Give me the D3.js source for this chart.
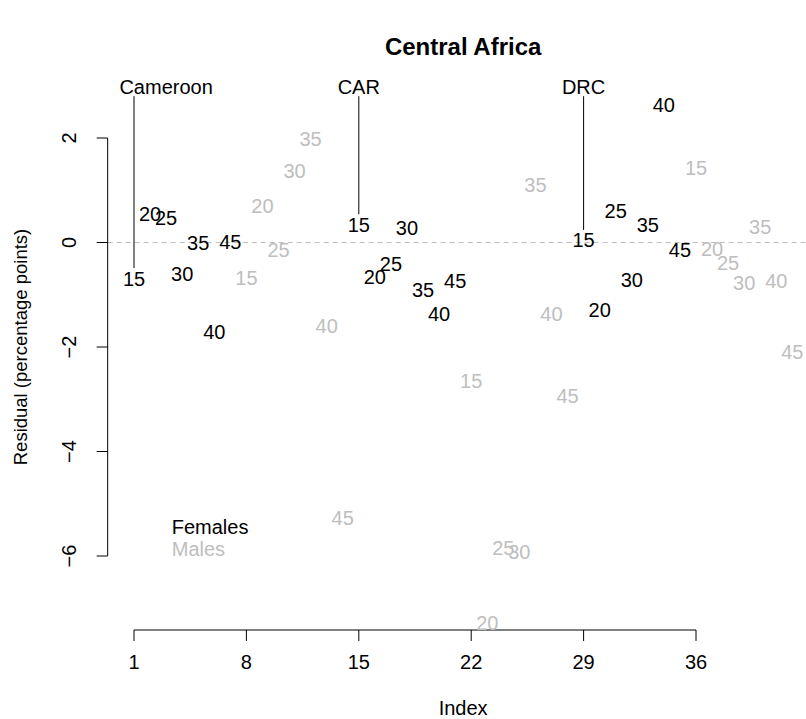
<!DOCTYPE html>
<html>
<head>
<meta charset="utf-8">
<script src="https://cdn.jsdelivr.net/npm/d3@7"></script>
<style>
  body { margin: 0; background: #fff; }
  text { font-family: "Liberation Sans", Arial, sans-serif; }
</style>
</head>
<body>
<div id="chart"></div>
<script>
// Residuals by country, sex and age group
const countries = ["Cameroon", "CAR", "DRC"];
const countryLabelIdx = [3, 15, 29];
const ages = [15, 20, 25, 30, 35, 40, 45];

const cameroonFemales = [-0.69, 0.55, 0.47, -0.61, -0.01, -1.72, 0.01];
const cameroonMales = [-0.68, 0.69, -0.14, 1.36, 1.98, -1.59, -5.28];
const carFemales = [0.34, -0.66, -0.41, 0.28, -0.91, -1.37, -0.73];
const carMales = [-2.65, -7.28, -5.85, -5.93, 1.11, -1.37, -2.94];
const drcFemales = [0.04, -1.30, 0.61, -0.71, 0.33, 2.64, -0.15];
const drcMales = [1.42, -0.13, -0.40, -0.78, 0.29, -0.74, -2.10];

const xTicks = [1, 8, 15, 22, 29, 36];
const yTicks = [2, 0, -2, -4, -6];

const femaleCol = "#000000", maleCol = "#bebebe";

// flat list of points: index runs country by country, females then males
const series = [
    { values: cameroonFemales, sex: "F" }, { values: cameroonMales, sex: "M" },
    { values: carFemales, sex: "F" }, { values: carMales, sex: "M" },
    { values: drcFemales, sex: "F" }, { values: drcMales, sex: "M" }
];
const points = [];
series.forEach((s, si) => {
    s.values.forEach((v, ai) => {
        points.push({ index: si * 7 + ai + 1, value: v, age: ages[ai], sex: s.sex });
    });
});

const width = 806, height = 719;
const svg = d3.select("#chart").append("svg")
    .attr("width", width)
    .attr("height", height);

const x = d3.scaleLinear().domain([1, 36]).range([134, 696]);
const y = d3.scaleLinear().domain([-6, 2]).range([556, 138]);

const plotLeft = x(-0.64), plotRight = x(43.64);
const fs = 20;

// title
svg.append("text")
    .attr("x", (plotLeft + plotRight) / 2)
    .attr("y", 47)
    .attr("dy", "0.35em")
    .attr("text-anchor", "middle")
    .style("font-weight", "bold")
    .style("font-size", "24px")
    .text("Central Africa");

// zero reference line
svg.append("line")
    .attr("x1", plotLeft).attr("x2", plotRight)
    .attr("y1", y(0)).attr("y2", y(0))
    .attr("stroke", maleCol)
    .attr("stroke-dasharray", "5,4");

// x axis
const xAxis = svg.append("g").attr("transform", "translate(0,630)");
xAxis.append("line")
    .attr("x1", x(xTicks[0])).attr("x2", x(xTicks[xTicks.length - 1]))
    .attr("stroke", "#000");
xAxis.selectAll(".xt").data(xTicks).enter().append("line")
    .attr("x1", d => x(d)).attr("x2", d => x(d))
    .attr("y1", 0).attr("y2", 11)
    .attr("stroke", "#000");
xAxis.selectAll(".xl").data(xTicks).enter().append("text")
    .attr("x", d => x(d)).attr("y", 32)
    .attr("dy", "0.35em")
    .attr("text-anchor", "middle")
    .style("font-size", fs + "px")
    .text(d => d);

// y axis
const yAxis = svg.append("g").attr("transform", "translate(" + plotLeft + ",0)");
yAxis.append("line")
    .attr("y1", y(yTicks[0])).attr("y2", y(yTicks[yTicks.length - 1]))
    .attr("stroke", "#000");
yAxis.selectAll(".yt").data(yTicks).enter().append("line")
    .attr("y1", d => y(d)).attr("y2", d => y(d))
    .attr("x1", 0).attr("x2", -11)
    .attr("stroke", "#000");
yAxis.selectAll(".yl").data(yTicks).enter().append("text")
    .attr("transform", d => "translate(-39," + y(d) + ") rotate(-90)")
    .attr("dy", "0.35em")
    .attr("text-anchor", "middle")
    .style("font-size", fs + "px")
    .text(d => d < 0 ? "\u2212" + Math.abs(d) : d);

// axis titles
svg.append("text")
    .attr("x", (plotLeft + plotRight) / 2)
    .attr("y", 708)
    .attr("dy", "0.35em")
    .attr("text-anchor", "middle")
    .style("font-size", fs + "px")
    .text("Index");
svg.append("text")
    .attr("transform", "translate(21," + y(-2) + ") rotate(-90)")
    .attr("dy", "0.35em")
    .attr("text-anchor", "middle")
    .style("font-size", "18.5px")
    .text("Residual (percentage points)");

// country markers: label above, line down to the first age group
const firstIdx = countries.map((c, i) => i * 14 + 1);
svg.selectAll(".cline").data(countries).enter().append("line")
    .attr("x1", (d, i) => x(firstIdx[i])).attr("x2", (d, i) => x(firstIdx[i]))
    .attr("y1", y(2.8))
    .attr("y2", (d, i) => y(points[firstIdx[i] - 1].value + 0.2))
    .attr("stroke", "#000");
svg.selectAll(".clab").data(countries).enter().append("text")
    .attr("x", (d, i) => x(countryLabelIdx[i]))
    .attr("y", y(2.97))
    .attr("dy", "0.35em")
    .attr("text-anchor", "middle")
    .style("font-size", fs + "px")
    .text(d => d);

// residuals drawn as age labels
svg.selectAll(".pt").data(points).enter().append("text")
    .attr("x", d => x(d.index))
    .attr("y", d => y(d.value))
    .attr("dy", "0.35em")
    .attr("text-anchor", "middle")
    .attr("fill", d => d.sex === "F" ? femaleCol : maleCol)
    .style("font-size", fs + "px")
    .text(d => d.age);

// legend
const legend = [{ label: "Females", col: femaleCol }, { label: "Males", col: maleCol }];
svg.selectAll(".leg").data(legend).enter().append("text")
    .attr("x", x(3.35))
    .attr("y", (d, i) => 527 + i * 22)
    .attr("dy", "0.35em")
    .attr("fill", d => d.col)
    .style("font-size", fs + "px")
    .text(d => d.label);
</script>
</body>
</html>
